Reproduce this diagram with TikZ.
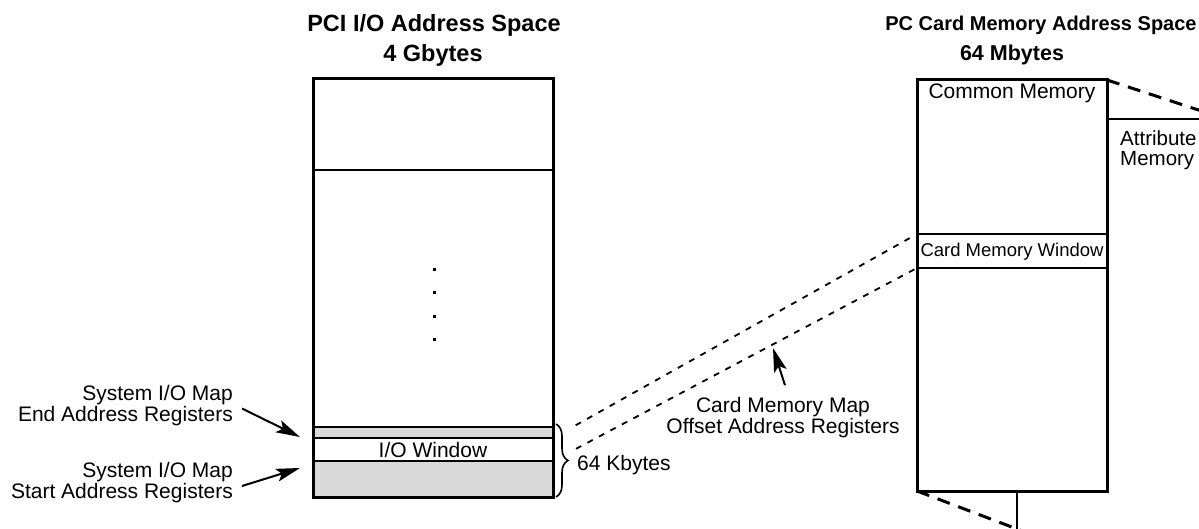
\documentclass[tikz,border=0pt]{standalone}
\usepackage{fontspec}
\setmainfont{Liberation Sans}
\usetikzlibrary{arrows.meta,decorations.pathreplacing,calc}
\begin{document}
\begin{tikzpicture}[x=1pt,y=-1pt,
  frame/.style={draw, line width=3pt, inner sep=0pt, outer sep=0pt, anchor=north west},
  band/.style={draw, line width=2.6pt, inner sep=0pt, outer sep=0pt, anchor=north west},
  shaded/.style={fill=black!15},
  title/.style={font=\fontsize{23.5}{26}\selectfont\bfseries, inner sep=0pt, anchor=base},
  lbl/.style={font=\fontsize{21}{18.5}\selectfont, inner sep=0pt},
  map/.style={dash pattern=on 6pt off 7pt, line width=1.8pt},
  persp/.style={dash pattern=on 13pt off 9pt, line width=3pt},
  ptr/.style={-{Stealth[length=24pt,width=13pt,inset=5pt]}, line width=2pt},
]
\useasboundingbox (0,0) rectangle (1199,529);
\fill[white] (0,0) rectangle (1199,529);
\clip (0,0) rectangle (1199,529);

% ---- PCI I/O address space ----
\node[title] (pcititle) at (434,32) {PCI I/O Address Space};
\node[title] (pcisize) at (433,62) {4 Gbytes};

\node[band, shaded, minimum width=240pt, minimum height=11pt] (endreg) at (313,427) {};
\node[band, minimum width=240pt, minimum height=23pt] (iow) at (313,438) {};
\node[lbl, anchor=base] (iowtext) at (433,457) {I/O Window};
\node[band, shaded, minimum width=240pt, minimum height=36pt] (startreg) at (313,461) {};
\node[frame, minimum width=240pt, minimum height=418pt] (pci) at (313,79) {};
\draw[line width=2.6pt] (pci.west |- 0,170) coordinate (pcisepl) -- (pci.east |- pcisepl);

% vertical ellipsis
\foreach \y in {268.5,291.5,314.5,337.5}
  \fill (432.5,\y) rectangle ++(3,3);

% 64 Kbyte bracket
\draw[line width=1.6pt, decorate, decoration={brace, amplitude=12pt}]
  (556,424) coordinate (brtop) -- (556,497) coordinate (brbot);
\node[lbl, anchor=base west] (kbytes) at (577,470) {64 Kbytes};

% register labels
\node[lbl, align=right, anchor=east] (endlbl) at (233,405.5)
  {System I/O Map\\End Address Registers};
\node[lbl, align=right, anchor=east] (startlbl) at (233,482.5)
  {System I/O Map\\Start Address Registers};
\coordinate (endtip) at (300,437);
\coordinate (starttip) at (300,468);
\draw[ptr] (endlbl.east) ++(9,3) -- (endtip);
\draw[ptr] (startlbl.east) ++(9,3.5) -- (starttip);

% ---- PC Card memory address space ----
\node[title, font=\fontsize{20}{24}\selectfont\bfseries] (pctitle) at (1041,31) {PC Card Memory Address Space};
\node[title, font=\fontsize{21.5}{24}\selectfont\bfseries] (pcsize) at (1012,61) {64 Mbytes};

\node[band, minimum width=190pt, minimum height=34pt] (cmw) at (917,234) {};
\node[lbl, anchor=base, font=\fontsize{18.5}{20}\selectfont] (cmwtext) at (1012,257) {Card Memory Window};
\node[frame, minimum width=190pt, minimum height=411pt] (pcm) at (917,80) {};
\node[lbl, anchor=base] (common) at (1012,99) {Common Memory};

% attribute memory plane, seen edge-on
\coordinate (attrl) at (pcm.east |- 0,119);
\coordinate (attrr) at (1210,119);
\draw[line width=2.6pt] (attrl) -- (attrr);
\coordinate (attrfar) at (1229,120);
\draw[persp] (pcm.north east) -- (attrfar);
\node[lbl, font=\fontsize{20.5}{19.5}\selectfont, align=left, anchor=west] (attr) at (1120,150)
  {Attribute\\Memory};

\coordinate (footl) at (1017,491);
\coordinate (pcmdrop) at (1017,540);
\draw[line width=2.8pt] (footl) -- (pcmdrop);
\coordinate (pcmfar) at ($(pcm.south west)!1.11!(1017,529)$);
\draw[persp] (pcm.south west) -- (pcmfar);

% ---- mapping between the windows ----
\draw[map, shorten <=26pt, shorten >=3pt] (iow.north east) -- (cmw.north west);
\draw[map, shorten <=26pt, shorten >=3pt] (iow.south east) -- (cmw.south west);
\node[lbl, align=center] (cmmap) at (783,417.5)
  {Card Memory Map\\Offset Address Registers};
\coordinate (cmtip) at (773,348);
\draw[ptr] (cmmap.north) ++(2,-12) -- (cmtip);
\end{tikzpicture}
\end{document}
